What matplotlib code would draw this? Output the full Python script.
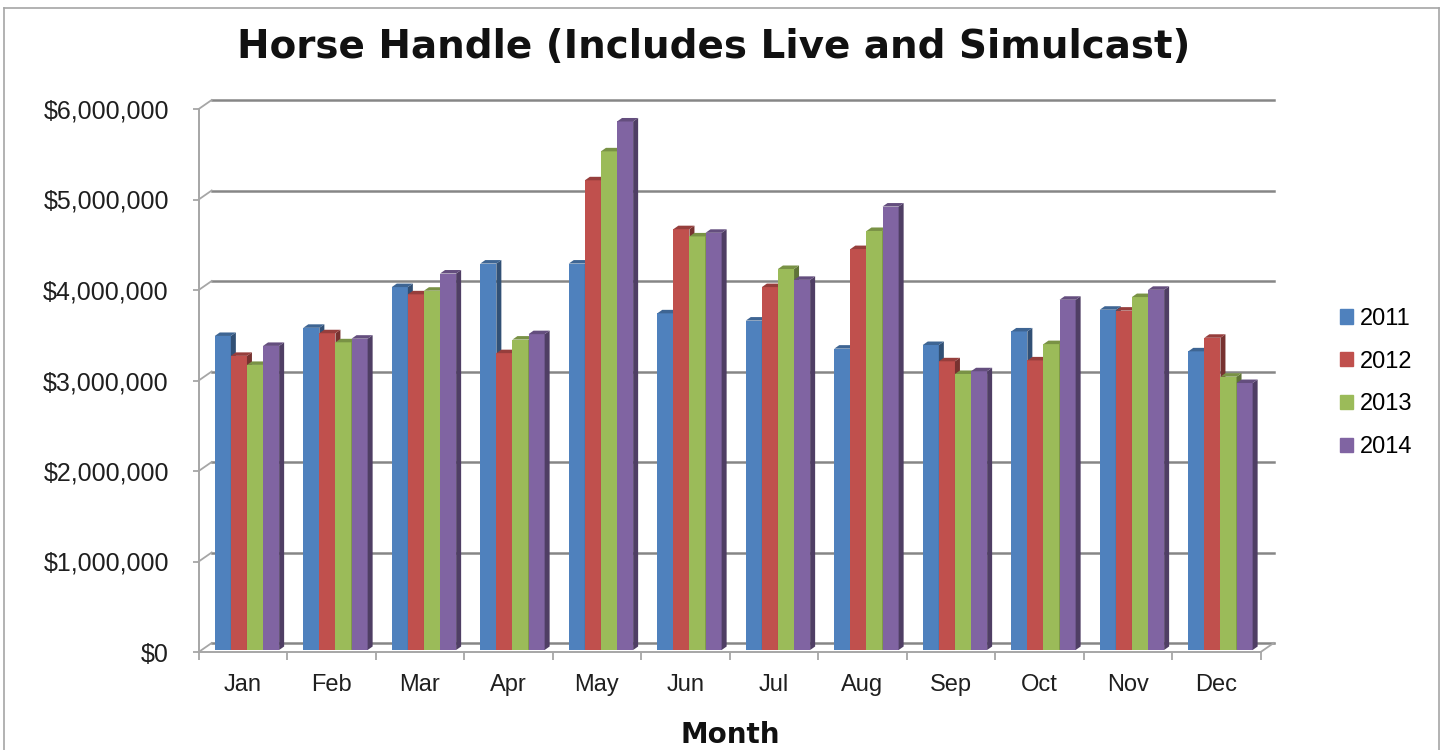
import matplotlib

matplotlib.use("Agg")
import matplotlib.pyplot as plt
from matplotlib.lines import Line2D
from matplotlib.patches import Patch, Polygon
from matplotlib.ticker import FuncFormatter
import numpy as np

plt.rcParams["font.family"] = ["Liberation Sans", "DejaVu Sans"]

# ---- data (monthly handle, dollars) ----
months = ["Jan", "Feb", "Mar", "Apr", "May", "Jun",
          "Jul", "Aug", "Sep", "Oct", "Nov", "Dec"]
years = ["2011", "2012", "2013", "2014"]
h2011 = [3.47e6, 3.56e6, 4.01e6, 4.27e6, 4.27e6, 3.72e6,
         3.64e6, 3.33e6, 3.37e6, 3.52e6, 3.76e6, 3.30e6]
h2012 = [3.25e6, 3.50e6, 3.93e6, 3.28e6, 5.19e6, 4.65e6,
         4.01e6, 4.43e6, 3.19e6, 3.20e6, 3.75e6, 3.45e6]
h2013 = [3.15e6, 3.40e6, 3.97e6, 3.43e6, 5.51e6, 4.57e6,
         4.21e6, 4.63e6, 3.05e6, 3.38e6, 3.90e6, 3.02e6]
h2014 = [3.36e6, 3.44e6, 4.16e6, 3.49e6, 5.84e6, 4.61e6,
         4.09e6, 4.90e6, 3.08e6, 3.87e6, 3.98e6, 2.95e6]
yticks = [0, 1e6, 2e6, 3e6, 4e6, 5e6, 6e6]

series = [h2011, h2012, h2013, h2014]
colors = ["#4F81BD", "#C0504D", "#9BBB59", "#8064A2"]
grid_col = "#868686"
axis_col = "#a6a6a6"


def shade(hex_color, f):
    rgb = np.array(matplotlib.colors.to_rgb(hex_color))
    return tuple(rgb * f)


W, H = 1445, 750
fig = plt.figure(figsize=(W / 100, H / 100), dpi=100)
ax_w, ax_h = 1062, 543
ax = fig.add_axes([198.7 / W, 98 / H, ax_w / W, ax_h / H])
ax.set_xlim(0, 12)
ax.set_ylim(0, 6e6)

# pixel -> data units, used for the fake 3-D depth
px = 12 / ax_w
py = 6e6 / ax_h
wall_dx, wall_dy = 13 * px, 9 * py
bar_dx, bar_dy = 5 * px, 3.5 * py
off_x, off_y = 4 * px, 2 * py

# back wall gridlines + side wall diagonals + floor edge
for t in yticks:
    ax.plot([wall_dx, 12 + wall_dx], [t + wall_dy, t + wall_dy],
            color=grid_col, lw=1.8, clip_on=False, zorder=1)
    ax.plot([0, wall_dx], [t, t + wall_dy], color=axis_col, lw=1.3,
            clip_on=False, zorder=1)
ax.plot([12, 12 + wall_dx], [0, wall_dy], color=axis_col, lw=1.3,
        clip_on=False, zorder=1)

# bars, drawn left to right so the next front face hides the previous side
w = 1 / (len(series) + 1.5)
z = 3
for i in range(len(months)):
    for j, vals in enumerate(series):
        v = vals[i]
        x0 = i + 0.5 + (j - len(series) / 2) * w + off_x
        x1 = x0 + w
        y0, y1 = off_y, off_y + v
        ax.bar(x0, v, width=w, bottom=y0, align="edge", color=colors[j],
               lw=0, zorder=z, clip_on=False)
        side = [(x1, y0), (x1 + bar_dx, y0 + bar_dy),
                (x1 + bar_dx, y1 + bar_dy), (x1, y1)]
        top = [(x0, y1), (x1, y1), (x1 + bar_dx, y1 + bar_dy),
               (x0 + bar_dx, y1 + bar_dy)]
        ax.add_patch(Polygon(side, closed=True, fc=shade(colors[j], 0.62),
                             lw=0, zorder=z, clip_on=False))
        ax.add_patch(Polygon(top, closed=True, fc=shade(colors[j], 0.78),
                             lw=0, zorder=z, clip_on=False))
        z += 1

# axes styling
for s in ("top", "right"):
    ax.spines[s].set_visible(False)
for s in ("left", "bottom"):
    ax.spines[s].set_color(axis_col)
    ax.spines[s].set_linewidth(1.4)
ax.set_facecolor("none")

ax.set_yticks(yticks)
ax.yaxis.set_major_formatter(FuncFormatter(lambda v, _: f"${v:,.0f}"))
ax.tick_params(axis="y", length=4.5, width=1.3, color=axis_col, pad=17,
               labelsize=18, labelcolor="#1f1f1f")

ax.set_xticks(np.arange(0, 13))
ax.set_xticklabels([])
ax.set_xticks(np.arange(len(months)) + 0.5, minor=True)
ax.set_xticklabels(months, minor=True)
ax.tick_params(axis="x", which="major", length=6, width=1.3, color=axis_col)
ax.tick_params(axis="x", which="minor", length=0, pad=16,
               labelsize=17, labelcolor="#1f1f1f")

handles = [Patch(color=c) for c in colors]
ax.legend(handles, years, loc="center left",
          bbox_to_anchor=(1340 / W, 1 - 383 / H), bbox_transform=fig.transFigure,
          frameon=False, fontsize=17, handlelength=0.55, handleheight=0.55,
          handletextpad=0.3, labelspacing=0.88, borderpad=0, borderaxespad=0)

fig.text(714 / W, 1 - 58.3 / H, "Horse Handle (Includes Live and Simulcast)",
         ha="center", va="baseline", fontsize=28, fontweight="bold",
         family="DejaVu Sans", color="#111111")
fig.text(730 / W, 1 - 743 / H, "Month", ha="center", va="baseline",
         fontsize=20, fontweight="bold", family="DejaVu Sans", color="#111111")

# chart border (bottom edge falls outside the picture)
for xs, ys in (([4, 4], [H, 8]), ([4, 1439], [8, 8]), ([1439, 1439], [8, H])):
    fig.add_artist(Line2D([x / W for x in xs], [1 - y / H for y in ys],
                          color=axis_col, lw=1.2))

fig.savefig("out.png", dpi=100)
